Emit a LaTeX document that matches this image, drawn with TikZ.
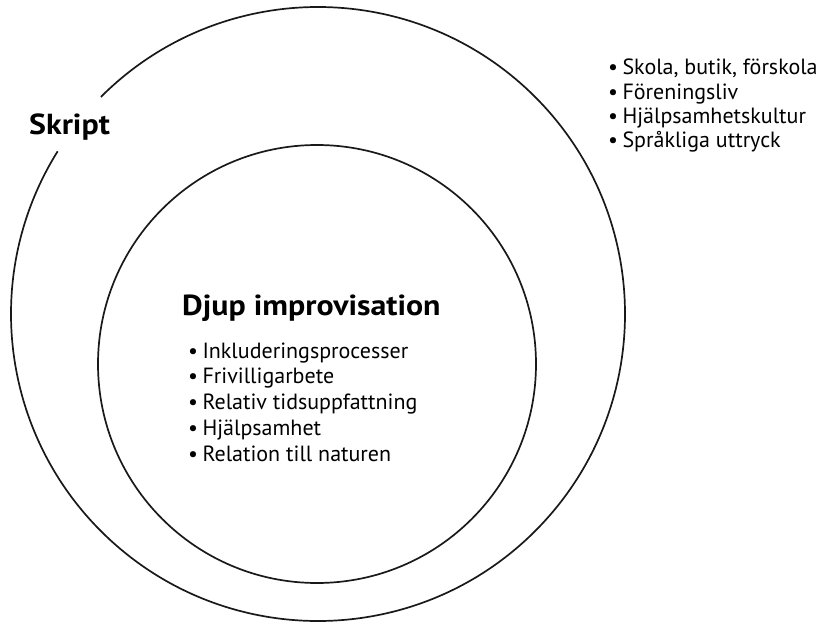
\documentclass[tikz,border=0pt]{standalone}
\usepackage{fontspec}
\setmainfont{PT Sans}
\newfontfamily\headfont[FakeStretch=1.1]{PT Sans Bold}
\usepackage{tikz}
\usetikzlibrary{positioning}

\begin{document}
\begin{tikzpicture}[
    x=1pt, y=-1pt,
    ring/.style={draw=black!90, line width=1.7pt},
    heading/.style={font=\headfont\fontsize{29}{34}\selectfont, inner sep=0pt, anchor=base west},
    item/.style={font=\fontsize{22}{26}\selectfont, inner sep=0pt, anchor=base west}
]
\useasboundingbox (0,0) rectangle (826,623);

% Circles
\draw[ring] (318,314) ++(225:307) arc[start angle=225, end angle=572, radius=307];
\draw[ring] (317,364) circle[radius=219];

% Labels
\node[heading] (skript) at (29,134) {Skript};
\node[heading] (djup) at (182,315) {Djup improvisation};

% Inner list
\foreach \txt [count=\i] in {Inkluderingsprocesser, Frivilligarbete, Relativ tidsuppfattning, Hjälpsamhet, Relation till naturen}
  \node[item] (inner\i) at (188,{358+25.8*(\i-1)}) {\textbullet\hspace{0.2em}\txt};

% Outer list
\foreach \txt [count=\i] in {{Skola, butik, förskola}, Föreningsliv, Hjälpsamhetskultur, Språkliga uttryck}
  \node[item] (outer\i) at (608,{75+24.2*(\i-1)}) {\textbullet\hspace{0.2em}\txt};

\end{tikzpicture}
\end{document}
